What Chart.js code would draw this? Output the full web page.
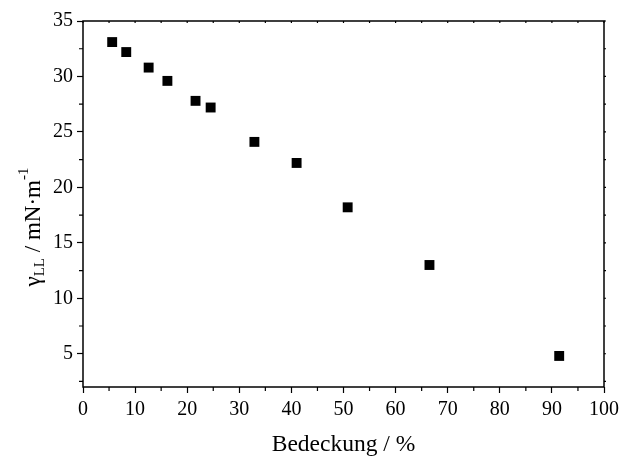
<!DOCTYPE html>
<html>
<head>
<meta charset="utf-8">
<script src="https://cdn.jsdelivr.net/npm/chart.js@4"></script>
<style>
  body { margin: 0; background: #fff; }
  canvas { display: block; }
</style>
</head>
<body>
<canvas id="chart" width="620" height="456"></canvas>
<script>
// coverage (%) and interfacial tension (mN/m)
const coverage = [5.6, 8.3, 12.6, 16.2, 21.6, 24.5, 32.9, 41.0, 50.8, 66.5, 91.4];
const tension = [33.1, 32.2, 30.8, 29.6, 27.8, 27.2, 24.1, 22.2, 18.2, 13.0, 4.8];
const xTicks = [0, 10, 20, 30, 40, 50, 60, 70, 80, 90, 100];
const yTicks = [5, 10, 15, 20, 25, 30, 35];

const serif = 'Liberation Serif, Times New Roman, serif';

// frame, minor ticks and the y title with sub/superscript
const framePlugin = {
    id: 'frame',
    afterDraw(chart) {
        const ctx = chart.ctx;
        const a = chart.chartArea;
        const xs = chart.scales.x, ys = chart.scales.y;
        ctx.save();
        ctx.strokeStyle = '#000';
        ctx.lineWidth = 1.5;
        ctx.strokeRect(a.left, a.top, a.right - a.left, a.bottom - a.top);

        ctx.lineWidth = 1.2;
        ctx.beginPath();
        // minor ticks
        for (let v = 5; v < 100; v += 10) {
            const px = xs.getPixelForValue(v);
            ctx.moveTo(px, a.bottom); ctx.lineTo(px, a.bottom + 4);
            ctx.moveTo(px, a.top); ctx.lineTo(px, a.top + 2);
        }
        for (let v = 2.5; v < 35; v += 5) {
            const py = ys.getPixelForValue(v);
            ctx.moveTo(a.left, py); ctx.lineTo(a.left - 4, py);
            ctx.moveTo(a.right, py); ctx.lineTo(a.right + 2, py);
        }
        // small marks on top/right for majors
        xTicks.forEach(v => {
            const px = xs.getPixelForValue(v);
            ctx.moveTo(px, a.top); ctx.lineTo(px, a.top + 2);
        });
        yTicks.forEach(v => {
            const py = ys.getPixelForValue(v);
            ctx.moveTo(a.right, py); ctx.lineTo(a.right + 2, py);
        });
        ctx.stroke();

        // y title
        ctx.translate(34, 227);
        ctx.rotate(-Math.PI / 2);
        ctx.fillStyle = '#000';
        ctx.textBaseline = 'middle';
        const parts = [
            { t: 'γ', size: 23, dy: 0 },
            { t: 'LL', size: 15, dy: 6 },
            { t: ' / mN·m', size: 23, dy: 0 },
            { t: '-1', size: 15, dy: -10 }
        ];
        let total = 0;
        parts.forEach(p => {
            ctx.font = p.size + 'px ' + serif;
            p.w = ctx.measureText(p.t).width;
            total += p.w;
        });
        let x = -total / 2;
        parts.forEach(p => {
            ctx.font = p.size + 'px ' + serif;
            ctx.textAlign = 'left';
            ctx.fillText(p.t, x, p.dy);
            x += p.w;
        });
        ctx.restore();
    }
};

new Chart(document.getElementById('chart'), {
    type: 'scatter',
    data: {
        datasets: [{
            data: coverage.map((c, i) => ({ x: c, y: tension[i] })),
            pointStyle: 'rect',
            pointRadius: 7,
            pointHoverRadius: 7,
            backgroundColor: '#000',
            borderColor: '#000',
            borderWidth: 0
        }]
    },
    options: {
        responsive: false,
        animation: false,
        events: [],
        layout: { padding: { top: 21, right: 16, left: 0, bottom: 0 } },
        plugins: {
            legend: { display: false },
            tooltip: { enabled: false }
        },
        scales: {
            x: {
                type: 'linear',
                min: 0,
                max: 100,
                afterBuildTicks: s => { s.ticks = xTicks.map(v => ({ value: v })); },
                afterFit: s => { s.height = 69; s.paddingLeft = 0; s.paddingRight = 0; },
                grid: { drawOnChartArea: false, tickLength: 6, tickWidth: 1.2, color: '#000' },
                border: { display: false },
                ticks: { color: '#000', padding: 5, maxRotation: 0, font: { family: serif, size: 20 } },
                title: {
                    display: true,
                    text: 'Bedeckung / %',
                    color: '#000',
                    font: { family: serif, size: 23.5 },
                    padding: { top: 0, bottom: -3 }
                }
            },
            y: {
                type: 'linear',
                min: 2,
                max: 35,
                afterBuildTicks: s => { s.ticks = yTicks.map(v => ({ value: v })); },
                afterFit: s => { s.width = 83; s.paddingTop = 0; s.paddingBottom = 0; },
                grid: { drawOnChartArea: false, tickLength: 6, tickWidth: 1.2, color: '#000' },
                border: { display: false },
                ticks: { color: '#000', padding: 4, font: { family: serif, size: 20 } }
            }
        }
    },
    plugins: [framePlugin]
});
</script>
</body>
</html>
